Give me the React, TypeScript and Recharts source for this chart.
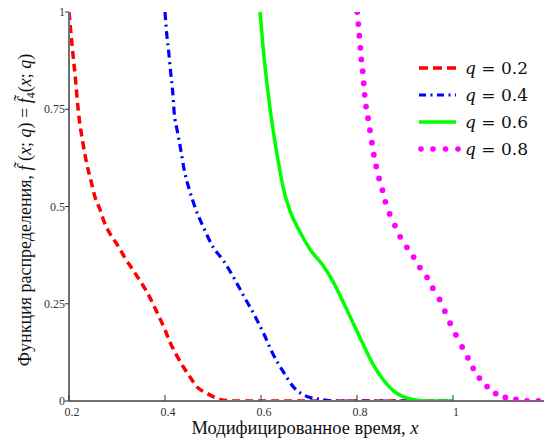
import React from 'react';
import { LineChart, Line, XAxis, YAxis, Legend } from 'recharts';

// ---- data ----
const q02X = [0.2, 0.206, 0.214, 0.219, 0.228, 0.237, 0.247, 0.254, 0.265, 0.273, 0.285, 0.303, 0.317, 0.331, 0.347, 0.362, 0.386, 0.4, 0.41, 0.424, 0.438, 0.452, 0.466, 0.487, 0.508, 0.53, 0.55, 0.7, 0.85, 1.0];
const q02Y = [1, 0.92, 0.82, 0.75, 0.67, 0.61, 0.56, 0.525, 0.491, 0.461, 0.431, 0.397, 0.367, 0.341, 0.311, 0.281, 0.221, 0.183, 0.152, 0.118, 0.088, 0.062, 0.037, 0.02, 0.007, 0.001, 0, 0, 0, 0];

const q04X = [0.4, 0.4035, 0.408, 0.412, 0.416, 0.419, 0.426, 0.433, 0.44, 0.451, 0.464, 0.48, 0.5, 0.521, 0.546, 0.563, 0.584, 0.605, 0.624, 0.646, 0.667, 0.697, 0.725, 0.75, 0.85, 1.0];
const q04Y = [1, 0.945, 0.894, 0.842, 0.795, 0.744, 0.692, 0.645, 0.594, 0.542, 0.493, 0.447, 0.396, 0.362, 0.311, 0.272, 0.226, 0.175, 0.123, 0.076, 0.037, 0.011, 0.004, 0, 0, 0];

const q06X = [0.598, 0.605, 0.612, 0.619, 0.626, 0.636, 0.646, 0.66, 0.681, 0.702, 0.73, 0.751, 0.771, 0.792, 0.813, 0.834, 0.855, 0.876, 0.896, 0.917, 0.94, 1.0];
const q06Y = [1, 0.9, 0.82, 0.75, 0.69, 0.615, 0.55, 0.49, 0.435, 0.39, 0.347, 0.305, 0.255, 0.2, 0.145, 0.093, 0.054, 0.026, 0.011, 0.004, 0, 0];

// q = 0.8 is drawn as individual sample points (one dot per value)
const q08X = [0.8006, 0.8027, 0.8048, 0.8069, 0.809, 0.8119, 0.814, 0.816, 0.8188, 0.823, 0.827, 0.831, 0.835, 0.84, 0.846, 0.853, 0.859, 0.868, 0.879, 0.89, 0.904, 0.918, 0.931, 0.946, 0.958, 0.972, 0.983, 0.994, 1.006, 1.019, 1.031, 1.042, 1.055, 1.071, 1.089, 1.109, 1.131, 1.154, 1.178];
const q08Y = [1, 0.969, 0.939, 0.908, 0.878, 0.848, 0.817, 0.787, 0.757, 0.727, 0.696, 0.664, 0.633, 0.603, 0.572, 0.542, 0.512, 0.481, 0.451, 0.422, 0.395, 0.37, 0.343, 0.318, 0.29, 0.261, 0.231, 0.2, 0.17, 0.139, 0.111, 0.084, 0.059, 0.037, 0.019, 0.009, 0.004, 0, 0];

const seriesNames = ['0.2', '0.4', '0.6', '0.8'];
const xTicks = [0.2, 0.4, 0.6, 0.8, 1];
const xTickLabels = ['0.2', '0.4', '0.6', '0.8', '1'];
const yTicks = [0, 0.25, 0.5, 0.75, 1];
const yTickLabels = ['0', '0.25', '0.5', '0.75', '1'];

const toRows = (xs: number[], ys: number[]) => xs.map((x, i) => ({ x, y: ys[i] }));

const series = [
  { name: seriesNames[0], data: toRows(q02X, q02Y), color: '#ff0000', width: 3.5, dash: '8 5', dots: false, legendDash: '9 5' },
  { name: seriesNames[1], data: toRows(q04X, q04Y), color: '#0000ff', width: 3.2, dash: '8 4.5 2 4.5', dots: false, legendDash: '7 4.5 2 4.5' },
  { name: seriesNames[2], data: toRows(q06X, q06Y), color: '#00ff00', width: 3.5, dash: undefined, dots: false, legendDash: undefined },
  { name: seriesNames[3], data: toRows(q08X, q08Y), color: '#ff00ff', width: 0, dash: undefined, dots: true, legendDash: undefined },
];

const AXIS = '#707070';
const TICK = '#333333';
const FONT = 'Liberation Serif, Tinos, Times New Roman, serif';
const LEGEND_FONT = 'DejaVu Serif, Liberation Serif, serif';

const BottomTick = (props: any) => {
  const { x, y, payload } = props;
  const i = xTicks.indexOf(payload.value);
  return (
    <g>
      <line x1={x} x2={x} y1={y} y2={y - 6} stroke={TICK} strokeWidth={1} />
      <text x={x + 3} y={y + 15} textAnchor="middle" style={{ fontFamily: FONT, fontSize: 12 }} fill={TICK}>
        {xTickLabels[i]}
      </text>
    </g>
  );
};

const TopTick = (props: any) => {
  const { x, y } = props;
  return <line x1={x} x2={x} y1={y} y2={y + 5} stroke={TICK} strokeWidth={1} />;
};

const LeftTick = (props: any) => {
  const { x, y, payload } = props;
  const i = yTicks.indexOf(payload.value);
  return (
    <g>
      <line x1={x - 4} x2={x} y1={y} y2={y} stroke={TICK} strokeWidth={1} />
      <text x={x - 4} y={y + 4} textAnchor="end" style={{ fontFamily: FONT, fontSize: 12 }} fill={TICK}>
        {yTickLabels[i]}
      </text>
    </g>
  );
};

const RightTick = (props: any) => {
  const { x, y } = props;
  return <line x1={x - 8} x2={x} y1={y} y2={y} stroke={TICK} strokeWidth={1} />;
};

const XLabel = (props: any) => {
  const vb = props.viewBox || { x: 69, y: 401, width: 480 };
  return (
    <text x={vb.x + 236} y={vb.y + 33} textAnchor="middle" style={{ fontFamily: FONT, fontSize: 18.5 }} fill="#111">
      Модифицированное время, <tspan fontStyle="italic">x</tspan>
    </text>
  );
};

const YLabel = (props: any) => {
  const vb = props.viewBox || { x: 0, y: 12, height: 389 };
  const cy = vb.y + 198;
  return (
    <text transform="rotate(-90)" x={-cy} y={31} textAnchor="middle" style={{ fontFamily: FONT, fontSize: 18 }} fill="#111">
      Функция распределения, <tspan fontStyle="italic">f̃</tspan> (<tspan fontStyle="italic">x</tspan>; <tspan fontStyle="italic">q</tspan>) = <tspan fontStyle="italic">f̃</tspan>
      <tspan style={{ fontSize: 12 }} dy={4}>4</tspan>
      <tspan dy={-4}>(</tspan><tspan fontStyle="italic">x</tspan>; <tspan fontStyle="italic">q</tspan>)
    </text>
  );
};

const legendDotXs = [4, 16, 28.5, 41];

const renderLegend = () => (
  <div style={{ fontFamily: LEGEND_FONT, fontSize: 17, color: '#111' }}>
    {series.map((s) => (
      <div key={s.name} style={{ display: 'flex', alignItems: 'center', height: 27 }}>
        <svg width={44} height={10} style={{ display: 'block' }}>
          {s.dots ? (
            legendDotXs.map((cx) => <circle key={cx} cx={cx} cy={5} r={2.8} fill={s.color} />)
          ) : (
            <line
              x1={2}
              x2={39}
              y1={5}
              y2={5}
              stroke={s.color}
              strokeWidth={s.width}
              strokeDasharray={s.legendDash}
            />
          )}
        </svg>
        <span style={{ marginLeft: 4, whiteSpace: 'nowrap' }}>
          <i>q</i> = {s.name}
        </span>
      </div>
    ))}
  </div>
);

export default function App() {
  return (
    <div style={{ position: 'absolute', left: 0, top: 0, width: 544, height: 441, overflow: 'hidden', background: '#fff' }}>
      <LineChart width={549} height={441} margin={{ top: 12, right: 0, bottom: 0, left: 0 }}>
        <XAxis
          xAxisId="b"
          dataKey="x"
          type="number"
          domain={[0.2, 1.2]}
          allowDataOverflow
          ticks={xTicks}
          height={40}
          tickSize={0}
          tickMargin={0}
          tickLine={false}
          tick={<BottomTick />}
          axisLine={{ stroke: AXIS, strokeWidth: 2 }}
          label={<XLabel />}
        />
        <XAxis
          xAxisId="t"
          orientation="top"
          dataKey="x"
          type="number"
          domain={[0.2, 1.2]}
          allowDataOverflow
          ticks={xTicks}
          height={0}
          tickSize={0}
          tickMargin={0}
          tickLine={false}
          tick={<TopTick />}
          axisLine={{ stroke: AXIS, strokeWidth: 2 }}
        />
        <YAxis
          yAxisId="l"
          dataKey="y"
          type="number"
          domain={[0, 1]}
          allowDataOverflow
          ticks={yTicks}
          width={69}
          tickSize={0}
          tickMargin={0}
          tickLine={false}
          tick={<LeftTick />}
          axisLine={{ stroke: AXIS, strokeWidth: 2 }}
          label={<YLabel />}
        />
        <YAxis
          yAxisId="r"
          orientation="right"
          dataKey="y"
          type="number"
          domain={[0, 1]}
          allowDataOverflow
          ticks={yTicks}
          width={0}
          tickSize={0}
          tickMargin={0}
          tickLine={false}
          tick={<RightTick />}
          axisLine={{ stroke: AXIS, strokeWidth: 2 }}
        />
        <Legend
          layout="vertical"
          align="center"
          verticalAlign="middle"
          content={renderLegend}
          wrapperStyle={{ left: 417, top: 54, width: 130, height: 110 }}
        />
        {series.map((s) => (
          <Line
            key={s.name}
            xAxisId="b"
            yAxisId="l"
            data={s.data}
            dataKey="y"
            name={s.name}
            type="monotone"
            stroke={s.dots ? 'none' : s.color}
            strokeWidth={s.width}
            strokeDasharray={s.dash}
            dot={s.dots ? { r: 2.9, fill: s.color, stroke: 'none' } : false}
            activeDot={false}
            isAnimationActive={false}
          />
        ))}
      </LineChart>
    </div>
  );
}
